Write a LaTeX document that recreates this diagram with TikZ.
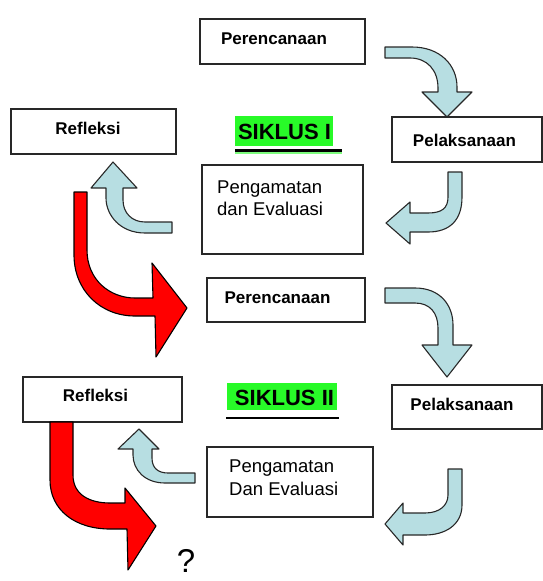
\documentclass[tikz,border=0pt]{standalone}
\usepackage{fontspec}
\setmainfont{Liberation Sans}
\definecolor{arrblue}{RGB}{183,222,226}
\definecolor{arrred}{RGB}{255,0,0}
\definecolor{hlgreen}{RGB}{40,250,40}
\definecolor{edge}{RGB}{40,40,40}
\begin{document}
\begin{tikzpicture}[x=1pt,y=-1pt,
  box/.style={draw=edge,line width=1.1pt,rectangle,inner sep=0pt},
  lbl/.style={font=\fontsize{17}{20}\selectfont\bfseries,inner sep=0pt,anchor=base},
  lbr/.style={font=\fontsize{18.5}{22}\selectfont,inner sep=0pt,anchor=base west},
  siklus/.style={font=\fontsize{22}{26}\selectfont\bfseries,inner sep=0pt,anchor=base},
  barrow/.style={fill=arrblue,draw=edge,line width=1.1pt,line join=round},
  rarrow/.style={fill=arrred,draw=black,line width=1.1pt,line join=round}]
\useasboundingbox (0,0) rectangle (543,581);
% boxes
\node[box,minimum width=165pt,minimum height=45pt] (per1box) at (282.5,41.5) {};
\node[box,minimum width=165pt,minimum height=45pt] (ref1box) at (93.5,131.5) {};
\node[box,minimum width=150pt,minimum height=45pt] (pel1box) at (467,139.5) {};
\node[box,minimum width=161pt,minimum height=89pt] (peng1box) at (282.5,209.5) {};
\node[box,minimum width=158pt,minimum height=44pt] (per2box) at (286,300) {};
\node[box,minimum width=159pt,minimum height=45pt] (ref2box) at (102.5,399.5) {};
\node[box,minimum width=150pt,minimum height=44pt] (pel2box) at (467,407) {};
\node[box,minimum width=166pt,minimum height=70pt] (peng2box) at (290,482) {};
% texts
\node[lbl] (per1) at (274,44) {Perencanaan};
\node[lbl] (ref1) at (88,134.5) {Refleksi};
\node[lbl] (pel1) at (464.5,146) {Pelaksanaan};
\node[lbr] (peng1a) at (217,193) {Pengamatan};
\node[lbr] (peng1b) at (217,215.5) {dan Evaluasi};
\node[lbl] (per2) at (277.5,303) {Perencanaan};
\node[lbl] (ref2) at (95.5,401.5) {Refleksi};
\node[lbl] (pel2) at (462,410) {Pelaksanaan};
\node[lbr] (peng2a) at (229,472) {Pengamatan};
\node[lbr] (peng2b) at (229,495) {Dan Evaluasi};
% siklus labels
\fill[hlgreen] (235,116) rectangle (333,146);
\draw[hlgreen!60,line width=1.5pt] (235,153) -- (342,153);
\draw[black,line width=2.6pt] (235,150.5) -- (342,150.5);
\node[siklus] (s1) at (284.5,139) {SIKLUS I};
\fill[hlgreen] (227,383) rectangle (337,410);
\draw[black,line width=2.6pt] (226,418) -- (339,418);
\node[siklus] (s2) at (284.5,405) {SIKLUS II};
\node[font=\fontsize{33}{38}\selectfont,inner sep=0pt,anchor=base] (q) at (186,572) {?};
% blue arrows, cycle I
\draw[barrow] (385,47) -- (412,47) .. controls (440,47) and (457,65) .. (457,87) -- (457,92) -- (472,92) -- (447,117) -- (422,92) -- (438,92) -- (438,88) .. controls (438,70) and (427,58) .. (410,58) -- (385,58) -- cycle;
\draw[barrow] (448,172) -- (462,172) -- (462,197) .. controls (462,220) and (450,232) .. (428,232) -- (410,232) -- (410,244) -- (386,223) -- (410,202) -- (410,213) -- (428,213) .. controls (442,213) and (448,208) .. (448,197) -- cycle;
\draw[barrow] (172,233) -- (145,233) .. controls (120,233) and (106,215) .. (106,198) -- (106,188) -- (91,188) -- (113,162) -- (137,188) -- (123,188) -- (123,200) .. controls (123,213) and (132,222) .. (145,222) -- (172,222) -- cycle;
% red arrow I
\draw[rarrow] (74,192) -- (87,192) -- (87,250) .. controls (87,280) and (110,298) .. (135,298) -- (153,298) -- (152,263) -- (187,308) -- (156,357) -- (155,316) -- (135,316) .. controls (100,316) and (74,290) .. (74,255) -- cycle;
% blue arrows, cycle II
\draw[barrow] (385,288) -- (415,288) .. controls (440,288) and (453,305) .. (453,325) -- (453,345) -- (472,345) -- (447,377) -- (422,345) -- (438,345) -- (438,328) .. controls (438,313) and (430,303) .. (415,303) -- (385,303) -- cycle;
\draw[barrow] (448,469) -- (462,469) -- (462,505) .. controls (462,525) and (445,535) .. (425,535) -- (403,535) -- (403,545) -- (385,524) -- (403,503) -- (403,513) -- (425,513) .. controls (440,513) and (448,505) .. (448,495) -- cycle;
\draw[barrow] (195,483) -- (165,483) .. controls (145,483) and (133,470) .. (133,455) -- (133,449) -- (118,449) -- (139,429) -- (159,449) -- (152,449) -- (152,458) .. controls (152,468) and (158,473) .. (168,473) -- (195,473) -- cycle;
% red arrow II
\draw[rarrow] (50,422) -- (73,422) -- (73,475) .. controls (73,495) and (90,503) .. (110,503) -- (125,503) -- (125,488) -- (156,526) -- (128,570) -- (127,529) -- (110,529) .. controls (75,529) and (50,510) .. (50,480) -- cycle;
\end{tikzpicture}
\end{document}
